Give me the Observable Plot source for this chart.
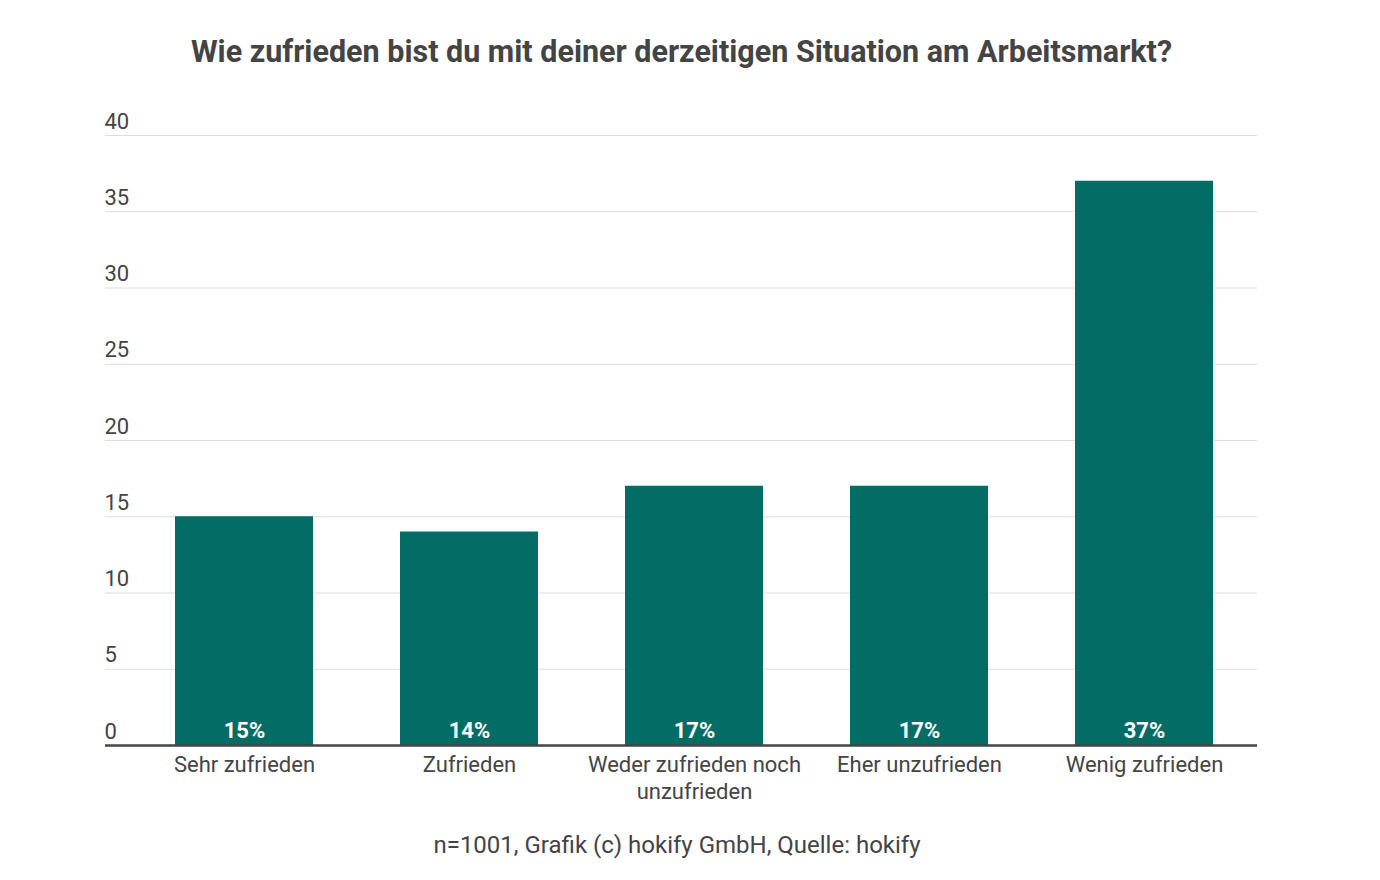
<!DOCTYPE html>
<html>
<head>
<meta charset="utf-8">
<script src="https://cdn.jsdelivr.net/npm/d3@7"></script>
<script src="https://cdn.jsdelivr.net/npm/@observablehq/plot@0.6"></script>
<style>
  html, body { margin: 0; padding: 0; background: #fff; }
  body { width: 1380px; height: 880px; position: relative; font-family: Roboto, "Noto Sans", sans-serif; color: #444; }
  #title { position: absolute; top: 34px; left: 0; width: 1363px; text-align: center; font-size: 30.5px; font-weight: 700; color: #444; line-height: 36px; }
  #chart { position: absolute; top: 100px; left: 0; }
  #caption { position: absolute; top: 830px; left: 0; width: 1354px; text-align: center; font-size: 24px; color: #444; line-height: 30px; }
</style>
</head>
<body>
<div id="title">Wie zufrieden bist du mit deiner derzeitigen Situation am Arbeitsmarkt?</div>
<div id="chart"></div>
<div id="caption">n=1001, Grafik (c) hokify GmbH, Quelle: hokify</div>
<script>
const categories = ["Sehr zufrieden", "Zufrieden", "Weder zufrieden noch unzufrieden", "Eher unzufrieden", "Wenig zufrieden"];
const values = [15, 14, 17, 17, 37];
const tickLabels = ["Sehr zufrieden", "Zufrieden", "Weder zufrieden noch\nunzufrieden", "Eher unzufrieden", "Wenig zufrieden"];
const yTicks = [0, 5, 10, 15, 20, 25, 30, 35, 40];

const data = categories.map((c, i) => ({category: c, value: values[i], label: values[i] + "%"}));
const labelOf = new Map(categories.map((c, i) => [c, tickLabels[i]]));

const plot = Plot.plot({
  width: 1380,
  height: 720,
  marginLeft: 130,
  marginRight: 123,
  marginTop: 35,
  marginBottom: 75,
  style: {fontFamily: "Roboto, sans-serif", fontSize: "22px", color: "#444", background: "#fff"},
  x: {domain: categories, paddingInner: 0.387, paddingOuter: 0.1935, label: null},
  y: {domain: [0, 40], label: null},
  marks: [
    Plot.ruleY(yTicks.filter(d => d > 0), {stroke: "#dcdcdc", strokeWidth: 1, insetLeft: -25, strokeOpacity: 1}),
    Plot.axisY(yTicks, {tickSize: 0, textAnchor: "start", dx: -17, dy: -14, fill: "#444", fontSize: 22, label: null}),
    Plot.barY(data, {x: "category", y: "value", fill: "#036d65"}),
    Plot.ruleY([0], {stroke: "#444", strokeWidth: 2.5, insetLeft: -25}),
    Plot.text(data, {x: "category", y: 0, text: "label", fill: "#fff", fontWeight: 700, fontSize: 22, dy: -15}),
    Plot.axisX({tickSize: 0, tickPadding: 7, fill: "#444", fontSize: 22, lineHeight: 1.23, textAnchor: "middle", lineAnchor: "top", tickFormat: d => labelOf.get(d), label: null})
  ]
});
document.getElementById("chart").appendChild(plot);
</script>
</body>
</html>
